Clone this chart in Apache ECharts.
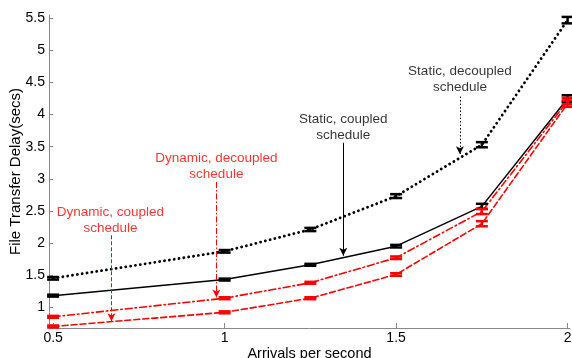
<!DOCTYPE html>
<html><head><meta charset="utf-8">
<script src="https://cdn.jsdelivr.net/npm/echarts@6/dist/echarts.min.js"></script>
<style>html,body{margin:0;padding:0;background:#fff}#c{width:572px;height:358px}</style>
</head><body><div id="c"></div>
<script>
const xs = [0.5, 1, 1.25, 1.5, 1.75, 2];
const xTicks = [0.5, 1, 1.5, 2];
const yTicks = [1, 1.5, 2, 2.5, 3, 3.5, 4, 4.5, 5, 5.5];
const staticDecoupled = [1.45, 1.87, 2.21, 2.73, 3.53, 5.47];
const staticDecoupledErr = [0.02, 0.02, 0.025, 0.03, 0.04, 0.05];
const staticCoupled = [1.18, 1.43, 1.66, 1.95, 2.57, 4.25];
const staticCoupledErr = [0.015, 0.015, 0.015, 0.02, 0.04, 0.05];
const dynDecoupled = [0.85, 1.14, 1.38, 1.77, 2.49, 4.21];
const dynDecoupledErr = [0.015, 0.015, 0.015, 0.02, 0.04, 0.05];
const dynCoupled = [0.70, 0.92, 1.14, 1.51, 2.30, 4.17];
const dynCoupledErr = [0.015, 0.015, 0.015, 0.02, 0.04, 0.05];
// annotations: [label, textX, textY, arrowX, arrowFromY, arrowToY]
const annotations = [
  ['Dynamic, coupled\nschedule', 0.667, 2.35, 0.67, 2.12, 0.78],
  ['Dynamic, decoupled\nschedule', 0.976, 3.20, 0.976, 2.95, 1.15],
  ['Static, coupled\nschedule', 1.346, 3.80, 1.346, 3.56, 1.80],
  ['Static, decoupled\nschedule', 1.686, 4.55, 1.686, 4.28, 3.38]
];
const annColors = ['#ff0000', '#ff0000', '#000000', '#000000'];
const annTypes = ['dashed', [6, 2, 1.5, 2], 'solid', [1.5, 2]];

function errSeries(vals, errs, color) {
  return {
    type: 'custom', z: 5,
    data: xs.map((x, i) => [x, vals[i] - errs[i], vals[i] + errs[i]]),
    renderItem: function (params, api) {
      const lo = api.coord([api.value(0), api.value(1)]);
      const hi = api.coord([api.value(0), api.value(2)]);
      const w = 6;
      const st = { stroke: color, lineWidth: 2.5 };
      return { type: 'group', children: [
        { type: 'line', shape: { x1: lo[0], y1: lo[1], x2: hi[0], y2: hi[1] }, style: st },
        { type: 'line', shape: { x1: lo[0] - w, y1: lo[1], x2: lo[0] + w, y2: lo[1] }, style: st },
        { type: 'line', shape: { x1: hi[0] - w, y1: hi[1], x2: hi[0] + w, y2: hi[1] }, style: st }
      ]};
    }
  };
}
function lineSeries(vals, color, type, width) {
  return {
    type: 'line', data: xs.map((x, i) => [x, vals[i]]), symbol: 'none',
    lineStyle: { color: color, width: width, type: type, cap: 'round' }, z: 3
  };
}
const chart = echarts.init(document.getElementById('c'), null, { renderer: 'canvas' });
const font = 'Liberation Sans, Arial, sans-serif';
chart.setOption({
  animation: false,
  grid: { left: 49, right: 2, top: 15, bottom: 30, outerBoundsMode: 'none', containLabel: false },
  xAxis: {
    type: 'value', min: 0.488, max: 2.007,
    name: 'Arrivals per second', nameLocation: 'middle', nameGap: 18, nameMoveOverlap: false,
    nameTextStyle: { fontFamily: font, fontSize: 14.5, color: '#000' },
    axisLine: { lineStyle: { color: '#888' } },
    axisTick: { inside: true, length: 5, customValues: xTicks, lineStyle: { color: '#888' } },
    axisLabel: { customValues: xTicks, fontFamily: font, fontSize: 14, color: '#000', margin: 3 },
    splitLine: { show: false }
  },
  yAxis: {
    type: 'value', min: 0.676, max: 5.55,
    name: 'File Transfer Delay(secs)', nameLocation: 'middle', nameGap: 26, nameMoveOverlap: false,
    nameTextStyle: { fontFamily: font, fontSize: 15, color: '#000' },
    axisLine: { show: true, lineStyle: { color: '#888' } },
    axisTick: { show: true, inside: true, length: 4, customValues: yTicks, lineStyle: { color: '#888' } },
    axisLabel: { customValues: yTicks, fontFamily: font, fontSize: 14, color: '#000', margin: 4 },
    splitLine: { show: false }
  },
  series: [
    lineSeries(staticDecoupled, '#000', [0.1, 4.8], 2.8),
    lineSeries(staticCoupled, '#000', 'solid', 1.5),
    lineSeries(dynDecoupled, '#ff0000', [7, 3, 1.5, 3], 1.6),
    lineSeries(dynCoupled, '#ff0000', [6, 3], 1.6),
    errSeries(staticDecoupled, staticDecoupledErr, '#000'),
    errSeries(staticCoupled, staticCoupledErr, '#000'),
    errSeries(dynDecoupled, dynDecoupledErr, '#ff0000'),
    errSeries(dynCoupled, dynCoupledErr, '#ff0000'),
    {
      type: 'scatter', symbolSize: 0, z: 10,
      data: annotations.map((a, i) => ({
        value: [a[1], a[2]],
        label: { show: true, position: 'inside', formatter: a[0], color: annColors[i],
          fontFamily: font, fontSize: 13.5, lineHeight: 16, align: 'center', verticalAlign: 'middle' }
      })),
      markLine: {
        silent: true, symbol: ['none', 'arrow'], symbolSize: [6, 8],
        label: { show: false },
        data: annotations.map((a, i) => [
          { coord: [a[3], a[4]], lineStyle: { color: annColors[i], type: annTypes[i], width: 1 } },
          { coord: [a[3], a[5]] }
        ])
      }
    }
  ]
});
</script></body></html>
